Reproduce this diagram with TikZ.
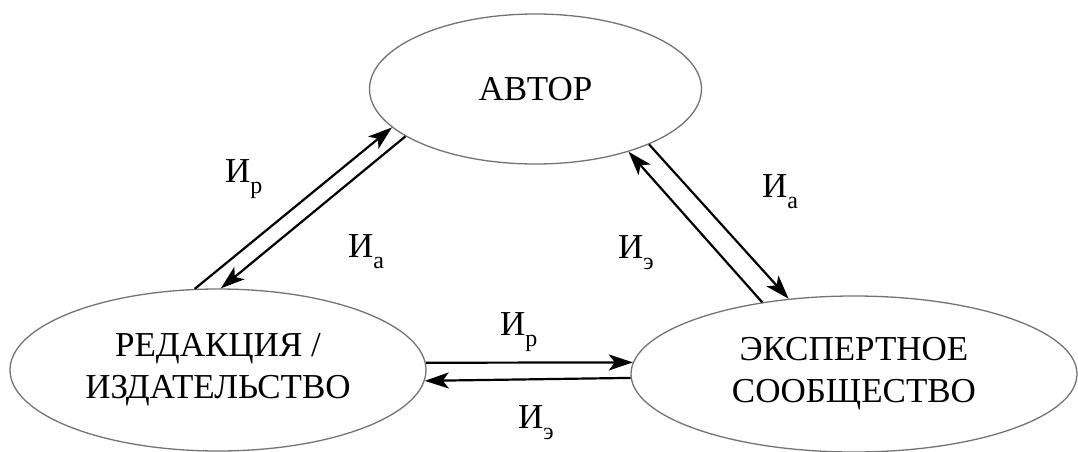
\documentclass[tikz,border=0pt]{standalone}
\usepackage{fontspec}
\IfFontExistsTF{LiberationSerif-Regular.ttf}
  {\newfontfamily\labelfont{LiberationSerif-Regular.ttf}\newcommand\labelscale{35}\newcommand\subscale{24}}
  {\newfontfamily\labelfont{DejaVu Serif}\newcommand\labelscale{31.5}\newcommand\subscale{21}}
\usetikzlibrary{shapes.geometric,arrows.meta}

% subscript letter set below the baseline of the main symbol
\newcommand\idxsub[1]{\raisebox{-11pt}{\fontsize{\subscale}{\subscale}\selectfont\labelfont #1}}

\tikzset{
  party/.style={ellipse, draw=black!55, line width=1.3pt, inner sep=0pt,
                align=center, font=\fontsize{\labelscale}{42}\selectfont\labelfont},
  flow/.style={line width=2.2pt, -{Stealth[length=24pt,width=16pt,inset=6pt]}},
  lbl/.style={inner sep=0pt, anchor=base west, font=\fontsize{\labelscale}{42}\selectfont\labelfont}
}

\begin{document}
\begin{tikzpicture}[x=1pt,y=-1pt]
  \useasboundingbox (0,0) rectangle (1078,452);

  % participants
  \node[party, minimum width=332pt, minimum height=150pt] (avt) at (535.5,89) {АВТОР};
  \node[party, minimum width=416pt, minimum height=162pt] (red) at (218,370) {РЕДАКЦИЯ /\\ИЗДАТЕЛЬСТВО};
  \node[party, minimum width=446pt, minimum height=156pt] (eks) at (854,374) {ЭКСПЕРТНОЕ\\СООБЩЕСТВО};

  % information flows
  \draw[flow] (red.106.6) -- (avt.195.3);
  \draw[flow] (avt.200.6) -- (red.88.6);
  \draw[flow] (eks.142.0) -- (avt.326.9);
  \draw[flow] (avt.334.9) -- (eks.131.9);
  \draw[flow] (red.2.3) -- (eks.177.7);
  \draw[flow] (eks.181.5) -- (red.357.5);

  % flow labels
  \node[lbl] (l1) at (225,182) {И\idxsub{р}};
  \node[lbl] (l2) at (348,257) {И\idxsub{а}};
  \node[lbl] (l3) at (762,197) {И\idxsub{а}};
  \node[lbl] (l4) at (618,258) {И\idxsub{э}};
  \node[lbl] (l5) at (500,335) {И\idxsub{р}};
  \node[lbl] (l6) at (518,428) {И\idxsub{э}};
\end{tikzpicture}
\end{document}
